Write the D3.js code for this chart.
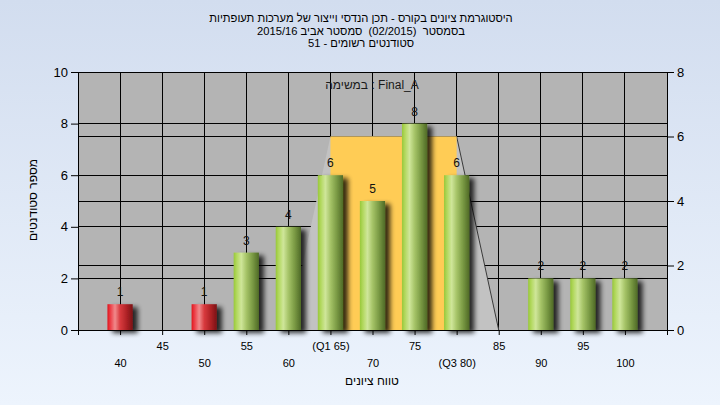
<!DOCTYPE html>
<html><head><meta charset="utf-8">
<script src="https://cdn.jsdelivr.net/npm/d3@7"></script>
<style>
html,body{margin:0;padding:0;}
body{width:720px;height:405px;overflow:hidden;}
text{font-family:"Liberation Sans",Arial,sans-serif;}
</style></head>
<body>
<svg id="chart" width="720" height="405"></svg>
<script>
// ---- data ----
const titleLines = [
  "היסטוגרמת ציונים בקורס - תכן הנדסי וייצור של מערכות תעופתיות",
  "בסמסטר  (02/2015)  סמסטר אביב 2015/16",
  "סטודנטים רשומים - 51"
];
const taskLabel = "במשימה : Final_A";
const yTitle = "מספר סטודנטים";
const xTitle = "טווח ציונים";
const categories = [40, 50, 55, 60, 65, 70, 75, 80, 90, 95, 100];
const counts = [1, 1, 3, 4, 6, 5, 8, 6, 2, 2, 2];
const status = ["fail", "fail", "pass", "pass", "pass", "pass", "pass", "pass", "pass", "pass", "pass"];
const xTicks = [40, 45, 50, 55, 60, 65, 70, 75, 80, 85, 90, 95, 100];
const xTickLabels = ["40", "45", "50", "55", "60", "(Q1 65)", "70", "75", "(Q3 80)", "85", "90", "95", "100"];
const yLeftTicks = [0, 2, 4, 6, 8, 10];
const yRightTicks = [0, 2, 4, 6, 8];
const iqrRange = [65, 80];
const iqrHeight = 6;            // on right axis
const trapX = [60, 65, 80, 85];
const trapY = [0, 6, 6, 0];     // on right axis

// ---- layout ----
const svg = d3.select("#chart");
const L = 78, R = 667, T = 72, B = 330;
const x = d3.scaleLinear().domain([35, 105]).range([L, R]);
const yL = d3.scaleLinear().domain([0, 10]).range([B, T]);
const yR = d3.scaleLinear().domain([0, 8]).range([B, T]);

const defs = svg.append("defs");
const bg = defs.append("linearGradient").attr("id", "bg").attr("x1", 0).attr("y1", 0).attr("x2", 0).attr("y2", 1);
bg.append("stop").attr("offset", "0%").attr("stop-color", "#d2ddef");
bg.append("stop").attr("offset", "100%").attr("stop-color", "#edf4fd");

function barGrad(id, stops) {
  const g = defs.append("linearGradient").attr("id", id).attr("x1", 0).attr("y1", 0).attr("x2", 1).attr("y2", 0);
  stops.forEach(s => g.append("stop").attr("offset", s[0]).attr("stop-color", s[1]));
}
barGrad("gPass", [["0%", "#98c83a"], ["12%", "#b2d85e"], ["30%", "#cfe69a"], ["50%", "#a6c468"], ["75%", "#7a9a44"], ["100%", "#4f6a26"]]);
barGrad("gFail", [["0%", "#e0141c"], ["12%", "#ec4048"], ["30%", "#f08a8c"], ["50%", "#d83a3e"], ["75%", "#b02226"], ["100%", "#7a1416"]]);

const sh = defs.append("filter").attr("id", "shadow").attr("x", "-20%").attr("y", "-20%").attr("width", "180%").attr("height", "140%");
sh.append("feGaussianBlur").attr("in", "SourceAlpha").attr("stdDeviation", 2.8).attr("result", "b");
sh.append("feOffset").attr("in", "b").attr("dx", 5).attr("dy", 3).attr("result", "o");
const ct = sh.append("feComponentTransfer").attr("in", "o").attr("result", "s");
ct.append("feFuncA").attr("type", "linear").attr("slope", 0.8);
const mg = sh.append("feMerge");
mg.append("feMergeNode").attr("in", "s");
mg.append("feMergeNode").attr("in", "SourceGraphic");

svg.append("rect").attr("width", 720).attr("height", 405).attr("fill", "url(#bg)");

// titles
titleLines.forEach((t, i) => {
  svg.append("text").attr("x", 361).attr("y", 22 + i * 12.5).attr("text-anchor", "middle")
    .attr("direction", "rtl").style("white-space", "pre").attr("font-size", 11.2).attr("fill", "#000").text(t);
});

// plot area
svg.append("rect").attr("x", L).attr("y", T).attr("width", R - L).attr("height", B - T).attr("fill", "#b4b4b4");

// gridlines
const grid = svg.append("g").attr("stroke", "#000").attr("stroke-width", 1).attr("shape-rendering", "crispEdges");
yLeftTicks.forEach(v => grid.append("line").attr("x1", L).attr("x2", R).attr("y1", yL(v)).attr("y2", yL(v)));
yRightTicks.forEach(v => grid.append("line").attr("x1", L).attr("x2", R).attr("y1", yR(v)).attr("y2", yR(v)));
xTicks.forEach(v => grid.append("line").attr("x1", x(v)).attr("x2", x(v)).attr("y1", T).attr("y2", B));

// trapezoid
const trapPts = trapX.map((v, i) => [x(v), yR(trapY[i])]);
svg.append("polygon").attr("points", trapPts.map(p => p.join(",")).join(" ")).attr("fill", "#c2c2c2");
svg.append("line").attr("x1", trapPts[2][0]).attr("y1", trapPts[2][1]).attr("x2", trapPts[3][0]).attr("y2", trapPts[3][1])
  .attr("stroke", "#3a3a3a").attr("stroke-width", 1);

// IQR band
svg.append("rect").attr("x", x(iqrRange[0])).attr("y", yR(iqrHeight))
  .attr("width", x(iqrRange[1]) - x(iqrRange[0])).attr("height", B - yR(iqrHeight)).attr("fill", "#ffcc55");

// axes
const axL = svg.append("g").attr("transform", `translate(${L},0)`)
  .call(d3.axisLeft(yL).tickValues(yLeftTicks).tickSize(7).tickPadding(3));
const axR = svg.append("g").attr("transform", `translate(${R},0)`)
  .call(d3.axisRight(yR).tickValues(yRightTicks).tickSize(7).tickPadding(3));
[axL, axR].forEach(a => {
  a.selectAll("text").attr("font-size", 13).attr("fill", "#000").attr("font-family", "Liberation Sans, Arial, sans-serif");
  a.selectAll("line,path").attr("stroke", "#000");
});
const axB = svg.append("g").attr("transform", `translate(0,${B})`)
  .call(d3.axisBottom(x).tickValues(xTicks).tickSize(5).tickFormat((d, i) => xTickLabels[i]));
axB.selectAll("line,path").attr("stroke", "#000");
axB.selectAll("text").attr("font-size", 11).attr("fill", "#000").attr("font-family", "Liberation Sans, Arial, sans-serif")
  .attr("dy", 0).attr("y", (d, i) => i % 2 === 0 ? 37 : 20);

// bars
const bars = svg.append("g").attr("filter", "url(#shadow)");
const bw = x(1.5) - x(0);
bars.selectAll("rect").data(categories).join("rect")
  .attr("x", d => x(d) - bw)
  .attr("y", (d, i) => yL(counts[i]))
  .attr("width", bw * 2)
  .attr("height", (d, i) => B - yL(counts[i]))
  .attr("fill", (d, i) => status[i] === "fail" ? "url(#gFail)" : "url(#gPass)");

svg.append("g").selectAll("text").data(categories).join("text")
  .attr("x", d => x(d)).attr("y", (d, i) => yL(counts[i]) - 8)
  .attr("text-anchor", "middle").attr("font-size", 12).attr("fill", "#111")
  .text((d, i) => counts[i]);

// task label
svg.append("text").attr("x", 372).attr("y", 89).attr("text-anchor", "middle").attr("font-size", 12)
  .attr("fill", "#1a1a1a").text(taskLabel);

// axis titles
svg.append("text").attr("transform", "translate(37,200) rotate(-90)").attr("text-anchor", "middle")
  .attr("font-size", 12).attr("fill", "#000").text(yTitle);
svg.append("text").attr("x", 372).attr("y", 385).attr("text-anchor", "middle")
  .attr("font-size", 12).attr("fill", "#000").text(xTitle);
</script>
</body></html>
